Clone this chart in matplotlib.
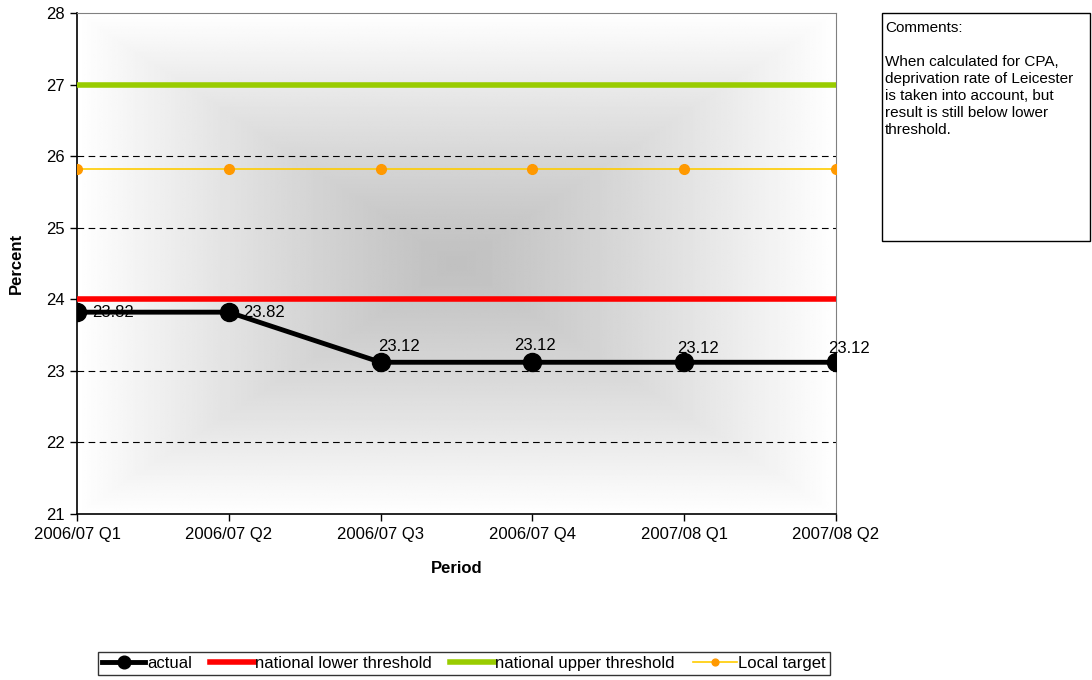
import matplotlib.pyplot as plt
import numpy as np
from matplotlib.patches import Rectangle

plt.rcParams['font.family'] = ['Liberation Sans', 'DejaVu Sans']

periods = ['2006/07 Q1', '2006/07 Q2', '2006/07 Q3', '2006/07 Q4', '2007/08 Q1', '2007/08 Q2']
actual = [23.82, 23.82, 23.12, 23.12, 23.12, 23.12]
lower_threshold = [24, 24, 24, 24, 24, 24]
upper_threshold = [27, 27, 27, 27, 27, 27]
local_target = [25.82, 25.82, 25.82, 25.82, 25.82, 25.82]
comment = ("Comments:\n\nWhen calculated for CPA,\ndeprivation rate of Leicester\n"
           "is taken into account, but\nresult is still below lower\nthreshold.")

FS = 12

fig = plt.figure(figsize=(10.92, 6.8), dpi=100)
ax = fig.add_axes([77 / 1092, 1 - 514 / 680, (836 - 77) / 1092, (514 - 13) / 680])

# rectangular "from centre" gradient fill: grey in the middle, white at the edges
gx = np.linspace(-1, 1, 400)
gy = np.linspace(-1, 1, 300)
X, Y = np.meshgrid(gx, gy)
d = np.maximum(np.abs(X), np.abs(Y))
shade = 0.755 + 0.245 * np.clip(d, 0, 1) ** 1.2
ax.imshow(shade, cmap='gray', vmin=0, vmax=1, extent=[0, 1, 0, 1],
          transform=ax.transAxes, aspect='auto', zorder=0, interpolation='bilinear')

x = np.arange(len(periods))
for yv in range(22, 28):
    ax.axhline(yv, color='black', lw=0.8, ls=(0, (6, 4)), zorder=1)

ax.plot(x, upper_threshold, color='#99cc00', lw=4, zorder=3, label='national upper threshold')
ax.plot(x, lower_threshold, color='#ff0000', lw=4, zorder=3, label='national lower threshold')
ax.plot(x, local_target, color='#ffcc00', lw=1.2, marker='o', ms=7, mfc='#ff9900',
        mec='#ff9900', zorder=3, label='Local target')
ax.plot(x, actual, color='black', lw=3.5, marker='o', ms=13, zorder=4, label='actual')

# data labels, placed the way the spreadsheet put them
offsets = [(11, 0), (10, 0), (-2, 11), (-13, 12), (-5, 10), (-6, 10)]
for xi, v, (dx, dy) in zip(x, actual, offsets):
    ax.annotate(f'{v:.2f}', (xi, v), xytext=(dx, dy), textcoords='offset points',
                ha='left', va='center', fontsize=FS, zorder=5, clip_on=False)

ax.set_xlim(0, len(periods) - 1)
ax.set_ylim(21, 28)
ax.set_xticks(x)
ax.set_xticklabels(periods, fontsize=FS)
ax.set_yticks(range(21, 29))
ax.tick_params(axis='both', labelsize=FS, length=5, width=1, direction='out', pad=4)
ax.set_xlabel('Period', fontsize=FS, fontweight='bold', labelpad=14)
ax.set_ylabel('Percent', fontsize=FS, fontweight='bold', labelpad=16)
for side in ('top', 'right'):
    ax.spines[side].set_color('#808080')
for side in ('left', 'bottom'):
    ax.spines[side].set_color('black')
    ax.spines[side].set_linewidth(1.2)

# comments box
fig.patches.append(Rectangle((882 / 1092, 1 - 241 / 680), (1090 - 882) / 1092, (241 - 13) / 680,
                             transform=fig.transFigure, fill=False, ec='black', lw=1))
fig.text(885 / 1092, 1 - 21 / 680, comment, fontsize=11, va='top', ha='left', linespacing=1.28)

handles, labels = ax.get_legend_handles_labels()
order = [3, 1, 0, 2]
leg = fig.legend([handles[i] for i in order], [labels[i] for i in order],
                 loc='center', bbox_to_anchor=(464 / 1092, 1 - 663.5 / 680), ncol=4,
                 fontsize=FS, frameon=True, fancybox=False, edgecolor='black',
                 handlelength=2.6, handletextpad=0.1, columnspacing=1.1, borderpad=0.25,
                 markerscale=0.7)
leg.get_frame().set_linewidth(1)

fig.savefig('out.png', dpi=100)
